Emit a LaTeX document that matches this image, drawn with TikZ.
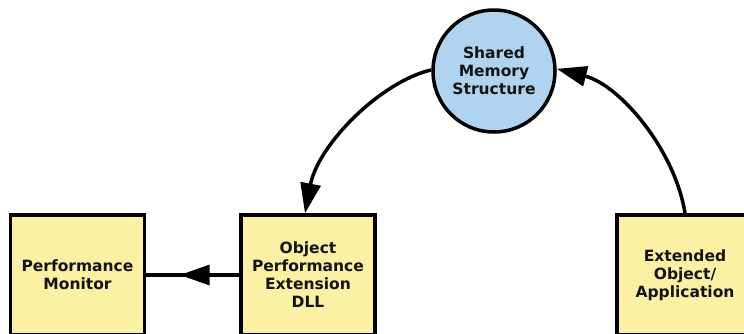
\documentclass[tikz,border=0pt]{standalone}
\usepackage{fontspec}
\setmainfont{DejaVu Sans}
\usetikzlibrary{arrows.meta,decorations.markings}
\definecolor{boxfill}{RGB}{252,240,165}
\definecolor{discfill}{RGB}{176,212,240}
\definecolor{ink}{RGB}{20,20,20}
\tikzset{
  unit/.style={draw=black,line width=3.5pt,fill=boxfill,minimum width=134pt,minimum height=120pt,
    align=center,text=ink,font=\fontsize{15.5}{18}\selectfont\bfseries},
  store/.style={draw=black,line width=3.5pt,fill=discfill,circle,minimum size=122pt,inner sep=0pt,
    align=center,text=ink,font=\fontsize{15.5}{18}\selectfont\bfseries},
  flow/.style={line width=3.5pt,-{Triangle[length=30pt,width=20pt]}},
  midflow/.style={line width=3.5pt,postaction={decorate},
    decoration={markings,mark=at position 0.64 with {\arrow{Triangle[length=30pt,width=20pt]}}}}
}
\begin{document}
\begin{tikzpicture}[x=1pt,y=-1pt]
  \useasboundingbox (0,0) rectangle (744,333);
  \clip (0,0) rectangle (744,333);
  \fill[white] (0,0) rectangle (744,333);

  \node[unit]  (pm)  at (77.5,275) {Performance\\Monitor};
  \node[unit]  (ope) at (308,275)  {Object\\Performance\\Extension\\DLL};
  \node[unit,minimum width=136pt] (eoa) at (685,275) {Extended\\Object/\\Application};
  \node[store] (sms) at (494,71)   {Shared\\Memory\\Structure};

  % extended application writes into the shared structure
  \draw[flow] (eoa.north) .. controls (675,150) and (620,85) .. (sms.2);
  % extension DLL reads from the shared structure
  \draw[flow] (sms.179) .. controls (380,82) and (318,145) .. ([xshift=-3pt]ope.north);
  % DLL reports to the monitor
  \draw[midflow] (ope.west) -- (pm.east);
\end{tikzpicture}
\end{document}
